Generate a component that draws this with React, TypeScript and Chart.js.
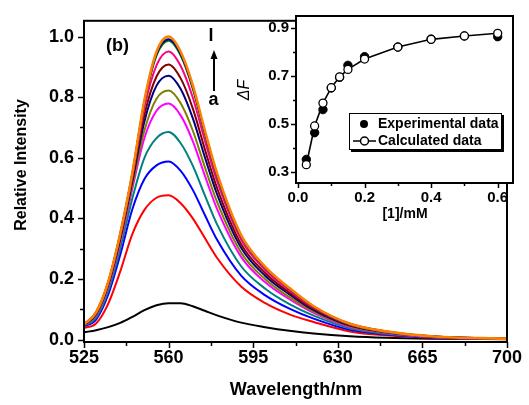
import React, { useEffect, useRef } from "react";
import { Chart, registerables } from "chart.js";
Chart.register(...registerables);

// ---------- main spectra ----------
const wavelengths = [525, 530, 535, 540, 545, 550, 555, 560, 565, 570, 575, 580, 590, 600, 610, 620, 635, 650, 670, 700];
const curveA = [0.024, 0.031, 0.041, 0.055, 0.075, 0.097, 0.113, 0.120, 0.120, 0.110, 0.095, 0.080, 0.056, 0.041, 0.029, 0.020, 0.011, 0.006, 0.003, 0.001];
const curveB = [0.038, 0.053, 0.118, 0.225, 0.348, 0.428, 0.468, 0.476, 0.450, 0.400, 0.335, 0.270, 0.175, 0.120, 0.083, 0.058, 0.027, 0.014, 0.006, 0.002];
const curveC = [0.043, 0.066, 0.148, 0.280, 0.430, 0.530, 0.575, 0.588, 0.557, 0.494, 0.411, 0.330, 0.211, 0.146, 0.102, 0.069, 0.032, 0.017, 0.007, 0.002];
const curveD = [0.045, 0.072, 0.160, 0.300, 0.466, 0.600, 0.665, 0.685, 0.648, 0.574, 0.476, 0.381, 0.242, 0.168, 0.117, 0.079, 0.037, 0.019, 0.008, 0.002];
const curveE = [0.047, 0.079, 0.171, 0.318, 0.498, 0.665, 0.755, 0.779, 0.740, 0.655, 0.541, 0.432, 0.273, 0.189, 0.133, 0.088, 0.041, 0.022, 0.008, 0.003];
const curveF = [0.047, 0.081, 0.176, 0.326, 0.508, 0.690, 0.795, 0.822, 0.780, 0.690, 0.569, 0.455, 0.287, 0.199, 0.140, 0.092, 0.044, 0.023, 0.009, 0.003];
const curveG = [0.048, 0.084, 0.180, 0.333, 0.522, 0.720, 0.838, 0.871, 0.827, 0.731, 0.602, 0.481, 0.303, 0.210, 0.149, 0.097, 0.046, 0.024, 0.009, 0.003];
const curveH = [0.049, 0.086, 0.184, 0.339, 0.532, 0.742, 0.868, 0.908, 0.862, 0.763, 0.628, 0.501, 0.315, 0.219, 0.155, 0.101, 0.048, 0.025, 0.009, 0.003];
const curveI = [0.049, 0.088, 0.187, 0.344, 0.540, 0.766, 0.905, 0.951, 0.903, 0.799, 0.657, 0.524, 0.329, 0.229, 0.162, 0.105, 0.050, 0.026, 0.010, 0.003];
const curveJ = [0.050, 0.089, 0.189, 0.348, 0.547, 0.783, 0.937, 0.986, 0.937, 0.828, 0.680, 0.542, 0.340, 0.237, 0.168, 0.109, 0.051, 0.027, 0.010, 0.003];
const curveK = [0.050, 0.090, 0.189, 0.349, 0.548, 0.786, 0.942, 0.991, 0.942, 0.833, 0.684, 0.545, 0.342, 0.238, 0.169, 0.109, 0.052, 0.027, 0.010, 0.003];
const curveL = [0.050, 0.090, 0.190, 0.350, 0.550, 0.790, 0.950, 1.000, 0.950, 0.840, 0.690, 0.550, 0.345, 0.240, 0.170, 0.110, 0.052, 0.027, 0.010, 0.003];
const curves = [curveA, curveB, curveC, curveD, curveE, curveF, curveG, curveH, curveI, curveJ, curveK, curveL];
const curveLabels = ["a", "b", "c", "d", "e", "f", "g", "h", "i", "j", "k", "l"];
const curveColors = ["#000000", "#ff0000", "#0000ff", "#008080", "#ff00ff", "#808000", "#000080", "#800000", "#ff0080", "#008000", "#000099", "#ff8000"];

const mainXTicks = [525, 560, 595, 630, 665, 700];
const mainYTicks = [0, 0.2, 0.4, 0.6, 0.8, 1.0];

// ---------- inset ----------
const concentrations = [0.025, 0.05, 0.075, 0.1, 0.125, 0.15, 0.2, 0.3, 0.4, 0.5, 0.6];
const experimental = [0.353, 0.464, 0.56, 0.65, 0.694, 0.744, 0.78, 0.82, 0.853, 0.866, 0.863];
const calculated = [0.331, 0.492, 0.587, 0.651, 0.696, 0.727, 0.77, 0.82, 0.852, 0.866, 0.877];
const insetXTicks = [0, 0.2, 0.4, 0.6];
const insetYTicks = [0.3, 0.5, 0.7, 0.9];

const FONT = "'Liberation Sans', Arial, sans-serif";

function mids(arr: number[]) {
  const out: number[] = [];
  for (let i = 0; i < arr.length - 1; i++) out.push((arr[i] + arr[i + 1]) / 2);
  return out;
}

function framePlugin(xMajor: number[], yMajor: number[], lw: number, majLen: number, minLen: number) {
  return {
    id: "frame",
    afterDatasetsDraw(chart: any) {
      const { ctx, chartArea } = chart;
      const { left, right, top, bottom } = chartArea;
      const sx = chart.scales.x;
      const sy = chart.scales.y;
      ctx.save();
      ctx.strokeStyle = "#000";
      ctx.lineWidth = lw;
      ctx.strokeRect(left, top, right - left, bottom - top);
      ctx.lineWidth = 1.5;
      ctx.beginPath();
      xMajor.forEach((v) => {
        const p = Math.round(sx.getPixelForValue(v)) + 0.5;
        ctx.moveTo(p, bottom);
        ctx.lineTo(p, bottom + majLen);
      });
      mids(xMajor).forEach((v) => {
        const p = Math.round(sx.getPixelForValue(v)) + 0.5;
        ctx.moveTo(p, bottom);
        ctx.lineTo(p, bottom + minLen);
      });
      yMajor.forEach((v) => {
        const p = Math.round(sy.getPixelForValue(v)) + 0.5;
        ctx.moveTo(left, p);
        ctx.lineTo(left - majLen, p);
      });
      mids(yMajor).forEach((v) => {
        const p = Math.round(sy.getPixelForValue(v)) + 0.5;
        ctx.moveTo(left, p);
        ctx.lineTo(left - minLen, p);
      });
      ctx.stroke();
      ctx.restore();
    },
  };
}

const mainTextPlugin = {
  id: "mainText",
  afterDraw(chart: any) {
    const ctx = chart.ctx;
    ctx.save();
    ctx.fillStyle = "#000";
    ctx.strokeStyle = "#000";
    ctx.font = `bold 18px ${FONT}`;
    ctx.textAlign = "center";
    ctx.textBaseline = "alphabetic";
    ctx.fillText("Wavelength/nm", 296, 395);
    ctx.save();
    ctx.translate(25.5, 165);
    ctx.rotate(-Math.PI / 2);
    ctx.font = `bold 16px ${FONT}`;
    ctx.fillText("Relative Intensity", 0, 0);
    ctx.restore();
    ctx.font = `bold 18px ${FONT}`;
    ctx.textBaseline = "middle";
    ctx.fillText("(b)", 117.5, 46);
    ctx.fillText(curveLabels[11], 211, 36);
    ctx.fillText(curveLabels[0], 213.5, 100);
    // arrow
    ctx.lineWidth = 2;
    ctx.beginPath();
    ctx.moveTo(214, 91);
    ctx.lineTo(214, 56);
    ctx.stroke();
    ctx.beginPath();
    ctx.moveTo(214, 50);
    ctx.lineTo(210.5, 59);
    ctx.lineTo(217.5, 59);
    ctx.closePath();
    ctx.fill();
    ctx.restore();
  },
};

const insetPlugin = {
  id: "insetExtra",
  beforeDatasetsDraw(chart: any) {
    const { ctx, chartArea } = chart;
    ctx.save();
    ctx.fillStyle = "#fff";
    ctx.fillRect(chartArea.left, chartArea.top, chartArea.right - chartArea.left, chartArea.bottom - chartArea.top);
    ctx.restore();
  },
  afterDraw(chart: any) {
    const ctx = chart.ctx;
    ctx.save();
    ctx.fillStyle = "#000";
    ctx.textAlign = "center";
    ctx.textBaseline = "alphabetic";
    ctx.font = `bold 14px ${FONT}`;
    ctx.fillText("[1]/mM", 405, 218);
    ctx.save();
    ctx.translate(249, 90);
    ctx.rotate(-Math.PI / 2);
    ctx.font = `italic 16px ${FONT}`;
    ctx.fillText("\u0394F", 0, 0);
    ctx.restore();
    // legend
    const bx = 349, by = 113, bw = 153, bh = 37;
    ctx.fillStyle = "#000";
    ctx.fillRect(bx + 2, by + 2, bw, bh);
    ctx.fillStyle = "#fff";
    ctx.fillRect(bx, by, bw, bh);
    ctx.strokeStyle = "#000";
    ctx.lineWidth = 1;
    ctx.strokeRect(bx + 0.5, by + 0.5, bw - 1, bh - 1);
    ctx.fillStyle = "#000";
    ctx.beginPath();
    ctx.arc(364, 124, 4, 0, Math.PI * 2);
    ctx.fill();
    ctx.lineWidth = 1.5;
    ctx.beginPath();
    ctx.moveTo(353, 141);
    ctx.lineTo(376, 141);
    ctx.stroke();
    ctx.fillStyle = "#fff";
    ctx.beginPath();
    ctx.arc(364.5, 141, 4, 0, Math.PI * 2);
    ctx.fill();
    ctx.stroke();
    ctx.fillStyle = "#000";
    ctx.textAlign = "left";
    ctx.textBaseline = "middle";
    ctx.font = `bold 14px ${FONT}`;
    ctx.fillText("Experimental data", 378, 124);
    ctx.fillText("Calculated data", 378, 141);
    ctx.restore();
  },
};

export default function App() {
  const mainRef = useRef<HTMLCanvasElement | null>(null);
  const insetRef = useRef<HTMLCanvasElement | null>(null);

  useEffect(() => {
    const mainDatasets = curves.map((c, i) => ({
      label: curveLabels[i],
      data: wavelengths.map((w, j) => ({ x: w, y: c[j] })),
      borderColor: curveColors[i],
      backgroundColor: curveColors[i],
      borderWidth: i === 11 ? 2.6 : 2,
      pointRadius: 0,
      fill: false,
      cubicInterpolationMode: "monotone" as const,
      order: 11 - i,
    }));

    const mainChart = new Chart(mainRef.current as HTMLCanvasElement, {
      type: "line",
      data: { datasets: mainDatasets as any },
      options: {
        animation: false,
        responsive: false,
        devicePixelRatio: 1,
        layout: { padding: { left: 0, right: 22, top: 13, bottom: 0 } },
        plugins: { legend: { display: false }, tooltip: { enabled: false } },
        scales: {
          x: {
            type: "linear",
            min: 525,
            max: 700,
            grid: { display: false, drawTicks: false },
            border: { display: false },
            afterBuildTicks: (s: any) => { s.ticks = mainXTicks.map((v) => ({ value: v })); },
            afterFit: (s: any) => { s.height = 63; },
            ticks: {
              autoSkip: false,
              maxRotation: 0,
              padding: 5,
              color: "#000",
              font: { family: FONT, size: 18, weight: "bold" },
              callback: (v: any) => String(v),
            },
          },
          y: {
            type: "linear",
            min: -0.008,
            max: 1.052,
            grid: { display: false, drawTicks: false },
            border: { display: false },
            afterBuildTicks: (s: any) => { s.ticks = mainYTicks.map((v) => ({ value: v })); },
            afterFit: (s: any) => { s.width = 84; },
            ticks: {
              autoSkip: false,
              padding: 10,
              color: "#000",
              font: { family: FONT, size: 18, weight: "bold" },
              callback: (v: any) => Number(v).toFixed(1),
            },
          },
        },
      },
      plugins: [framePlugin(mainXTicks, mainYTicks, 2, 6, 4), mainTextPlugin],
    } as any);

    const insetChart = new Chart(insetRef.current as HTMLCanvasElement, {
      type: "line",
      data: {
        datasets: [
          {
            label: "Calculated data",
            data: concentrations.map((c, i) => ({ x: c, y: calculated[i] })),
            borderColor: "#000",
            backgroundColor: "#fff",
            borderWidth: 1.6,
            pointRadius: 4,
            pointBorderWidth: 1.3,
            pointBackgroundColor: "#fff",
            pointBorderColor: "#000",
            tension: 0,
          },
          {
            label: "Experimental data",
            data: concentrations.map((c, i) => ({ x: c, y: experimental[i] })),
            showLine: false,
            borderColor: "#000",
            backgroundColor: "#000",
            pointRadius: 4.2,
            pointBackgroundColor: "#000",
            pointBorderColor: "#000",
          },
        ],
      },
      options: {
        animation: false,
        responsive: false,
        devicePixelRatio: 1,
        layout: { padding: { left: 0, right: 16, top: 13, bottom: 0 } },
        plugins: { legend: { display: false }, tooltip: { enabled: false } },
        scales: {
          x: {
            type: "linear",
            min: -0.006,
            max: 0.646,
            grid: { display: false, drawTicks: false },
            border: { display: false },
            afterBuildTicks: (s: any) => { s.ticks = insetXTicks.map((v) => ({ value: v })); },
            afterFit: (s: any) => { s.height = 222; },
            ticks: {
              autoSkip: false,
              maxRotation: 0,
              padding: 6,
              color: "#000",
              font: { family: FONT, size: 15, weight: "bold" },
              callback: (v: any) => Number(v).toFixed(1),
            },
          },
          y: {
            type: "linear",
            min: 0.255,
            max: 0.949,
            grid: { display: false, drawTicks: false },
            border: { display: false },
            afterBuildTicks: (s: any) => { s.ticks = insetYTicks.map((v) => ({ value: v })); },
            afterFit: (s: any) => { s.width = 296; },
            ticks: {
              autoSkip: false,
              padding: 7,
              color: "#000",
              font: { family: FONT, size: 15, weight: "bold" },
              callback: (v: any) => Number(v).toFixed(1),
            },
          },
        },
      },
      plugins: [insetPlugin, framePlugin(insetXTicks, insetYTicks, 2, 5, 3)],
    } as any);

    return () => {
      mainChart.destroy();
      insetChart.destroy();
    };
  }, []);

  return (
    <div style={{ position: "fixed", left: 0, top: 0, width: 529, height: 405, background: "#fff" }}>
      <canvas ref={mainRef} width={529} height={405} style={{ position: "absolute", left: 0, top: 0 }} />
      <canvas ref={insetRef} width={529} height={405} style={{ position: "absolute", left: 0, top: 0 }} />
    </div>
  );
}
